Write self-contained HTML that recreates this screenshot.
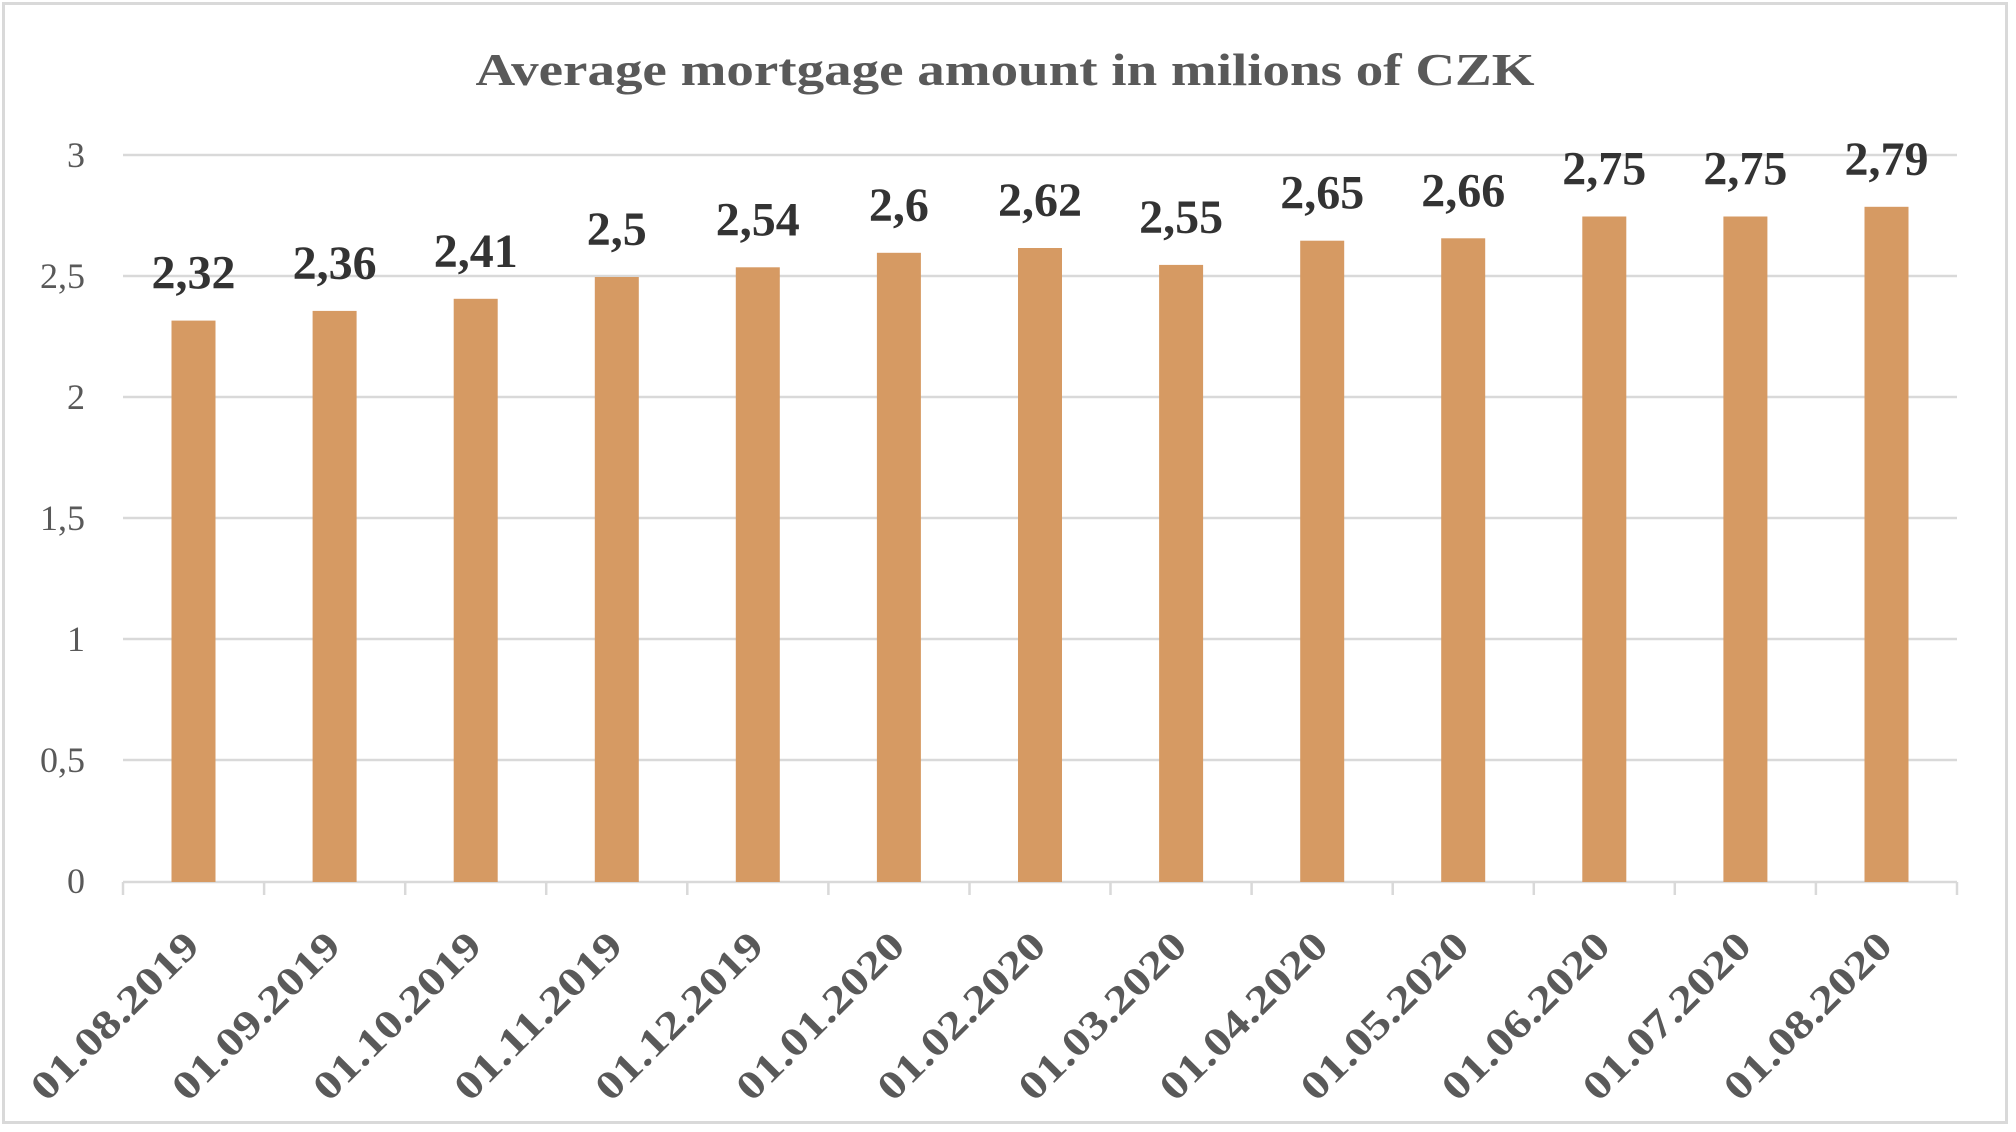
<!DOCTYPE html>
<html><head><meta charset="utf-8"><style>
html,body{margin:0;padding:0;background:#fff;}
svg{display:block;}
</style></head><body>
<svg width="2016" height="1132" viewBox="0 0 2016 1132" xmlns="http://www.w3.org/2000/svg" font-family="'Liberation Serif', serif">
<rect x="0" y="0" width="2016" height="1132" fill="#fff"/>
<rect x="3.5" y="3.5" width="2003" height="1119" fill="none" stroke="#d9d9d9" stroke-width="3"/>
<text x="1005" y="85" text-anchor="middle" font-size="46" font-weight="bold" fill="#595959" textLength="1059" lengthAdjust="spacingAndGlyphs">Average mortgage amount in milions of CZK</text>
<g stroke="#d9d9d9" stroke-width="2.5">
<line x1="123" y1="155" x2="1957" y2="155"/>
<line x1="123" y1="276" x2="1957" y2="276"/>
<line x1="123" y1="397" x2="1957" y2="397"/>
<line x1="123" y1="518" x2="1957" y2="518"/>
<line x1="123" y1="639" x2="1957" y2="639"/>
<line x1="123" y1="760" x2="1957" y2="760"/>
<line x1="123" y1="882" x2="1957" y2="882"/>
<line x1="123" y1="882" x2="123" y2="895"/>
<line x1="264.1" y1="882" x2="264.1" y2="895"/>
<line x1="405.2" y1="882" x2="405.2" y2="895"/>
<line x1="546.2" y1="882" x2="546.2" y2="895"/>
<line x1="687.3" y1="882" x2="687.3" y2="895"/>
<line x1="828.4" y1="882" x2="828.4" y2="895"/>
<line x1="969.5" y1="882" x2="969.5" y2="895"/>
<line x1="1110.5" y1="882" x2="1110.5" y2="895"/>
<line x1="1251.6" y1="882" x2="1251.6" y2="895"/>
<line x1="1392.7" y1="882" x2="1392.7" y2="895"/>
<line x1="1533.8" y1="882" x2="1533.8" y2="895"/>
<line x1="1674.8" y1="882" x2="1674.8" y2="895"/>
<line x1="1815.9" y1="882" x2="1815.9" y2="895"/>
<line x1="1957" y1="882" x2="1957" y2="895"/>
</g>
<g font-size="36" fill="#595959" text-anchor="end">
<text x="85" y="167">3</text>
<text x="85" y="288">2,5</text>
<text x="85" y="409">2</text>
<text x="85" y="530">1,5</text>
<text x="85" y="651">1</text>
<text x="85" y="772">0,5</text>
<text x="85" y="893">0</text>
</g>
<g fill="#d69a63">
<rect x="171.5" y="320.6" width="44" height="561.4"/>
<rect x="312.6" y="310.9" width="44" height="571.1"/>
<rect x="453.7" y="298.8" width="44" height="583.2"/>
<rect x="594.8" y="277" width="44" height="605"/>
<rect x="735.8" y="267.3" width="44" height="614.7"/>
<rect x="876.9" y="252.8" width="44" height="629.2"/>
<rect x="1018" y="248" width="44" height="634"/>
<rect x="1159.1" y="264.9" width="44" height="617.1"/>
<rect x="1300.2" y="240.7" width="44" height="641.3"/>
<rect x="1441.2" y="238.3" width="44" height="643.7"/>
<rect x="1582.3" y="216.5" width="44" height="665.5"/>
<rect x="1723.4" y="216.5" width="44" height="665.5"/>
<rect x="1864.5" y="206.8" width="44" height="675.2"/>
</g>
<g font-size="48" font-weight="bold" fill="#333" text-anchor="middle">
<text x="193.5" y="288.6">2,32</text>
<text x="334.6" y="278.9">2,36</text>
<text x="475.7" y="266.8">2,41</text>
<text x="616.8" y="245">2,5</text>
<text x="757.8" y="235.3">2,54</text>
<text x="898.9" y="220.8">2,6</text>
<text x="1040" y="216">2,62</text>
<text x="1181.1" y="232.9">2,55</text>
<text x="1322.2" y="208.7">2,65</text>
<text x="1463.2" y="206.3">2,66</text>
<text x="1604.3" y="184.5">2,75</text>
<text x="1745.4" y="184.5">2,75</text>
<text x="1886.5" y="174.8">2,79</text>
</g>
<g font-size="40" font-weight="bold" fill="#595959" text-anchor="end">
<text transform="translate(201.5,948) rotate(-45)" textLength="219" lengthAdjust="spacingAndGlyphs">01.08.2019</text>
<text transform="translate(342.6,948) rotate(-45)" textLength="219" lengthAdjust="spacingAndGlyphs">01.09.2019</text>
<text transform="translate(483.7,948) rotate(-45)" textLength="219" lengthAdjust="spacingAndGlyphs">01.10.2019</text>
<text transform="translate(624.8,948) rotate(-45)" textLength="219" lengthAdjust="spacingAndGlyphs">01.11.2019</text>
<text transform="translate(765.8,948) rotate(-45)" textLength="219" lengthAdjust="spacingAndGlyphs">01.12.2019</text>
<text transform="translate(906.9,948) rotate(-45)" textLength="219" lengthAdjust="spacingAndGlyphs">01.01.2020</text>
<text transform="translate(1048,948) rotate(-45)" textLength="219" lengthAdjust="spacingAndGlyphs">01.02.2020</text>
<text transform="translate(1189.1,948) rotate(-45)" textLength="219" lengthAdjust="spacingAndGlyphs">01.03.2020</text>
<text transform="translate(1330.2,948) rotate(-45)" textLength="219" lengthAdjust="spacingAndGlyphs">01.04.2020</text>
<text transform="translate(1471.2,948) rotate(-45)" textLength="219" lengthAdjust="spacingAndGlyphs">01.05.2020</text>
<text transform="translate(1612.3,948) rotate(-45)" textLength="219" lengthAdjust="spacingAndGlyphs">01.06.2020</text>
<text transform="translate(1753.4,948) rotate(-45)" textLength="219" lengthAdjust="spacingAndGlyphs">01.07.2020</text>
<text transform="translate(1894.5,948) rotate(-45)" textLength="219" lengthAdjust="spacingAndGlyphs">01.08.2020</text>
</g>
</svg>
</body></html>
